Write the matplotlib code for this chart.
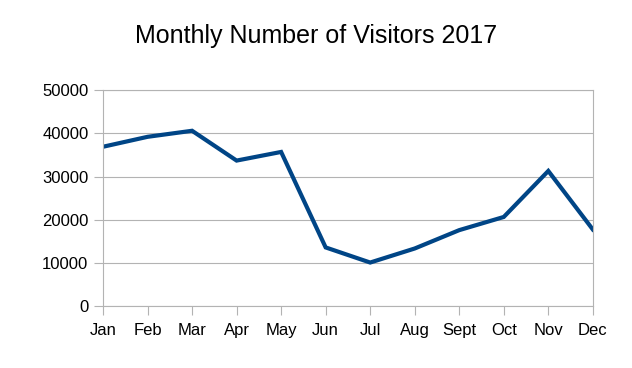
import matplotlib
matplotlib.use("Agg")
import matplotlib.pyplot as plt

months = ["Jan", "Feb", "Mar", "Apr", "May", "Jun", "Jul", "Aug", "Sept", "Oct", "Nov", "Dec"]
visitors = [36900, 39200, 40600, 33700, 35700, 13600, 10100, 13350, 17600, 20650, 31300, 17750]
yticks = [0, 10000, 20000, 30000, 40000, 50000]
title = "Monthly Number of Visitors 2017"

plt.rcParams['font.family'] = ['Liberation Sans', 'DejaVu Sans']

fig = plt.figure(figsize=(6.32, 3.68), dpi=100)
ax = fig.add_axes([0.163, 0.168, 0.775, 0.587])
x = list(range(len(months)))
ax.plot(x, visitors, color="#004586", linewidth=3, solid_joinstyle="miter")
ax.set_xlim(0, len(months) - 1)
ax.set_ylim(0, 50000)
ax.set_yticks(yticks)
ax.set_yticklabels([str(v) for v in yticks])
ax.set_xticks(x)
ax.set_xticklabels(months)
ax.grid(axis="y", color="#b3b3b3", linewidth=0.8)
ax.set_axisbelow(True)
for s in ax.spines.values():
    s.set_color("#b3b3b3")
    s.set_linewidth(0.8)
ax.tick_params(axis="both", colors="#b3b3b3", labelcolor="black", labelsize=12, length=6.5, width=0.8)
ax.tick_params(axis="x", pad=5.5)
ax.tick_params(axis="y", pad=4)
fig.text(0.5, 1 - 43 / 368, title, ha="center", va="baseline", fontsize=18)
fig.savefig("out.png", dpi=100)
